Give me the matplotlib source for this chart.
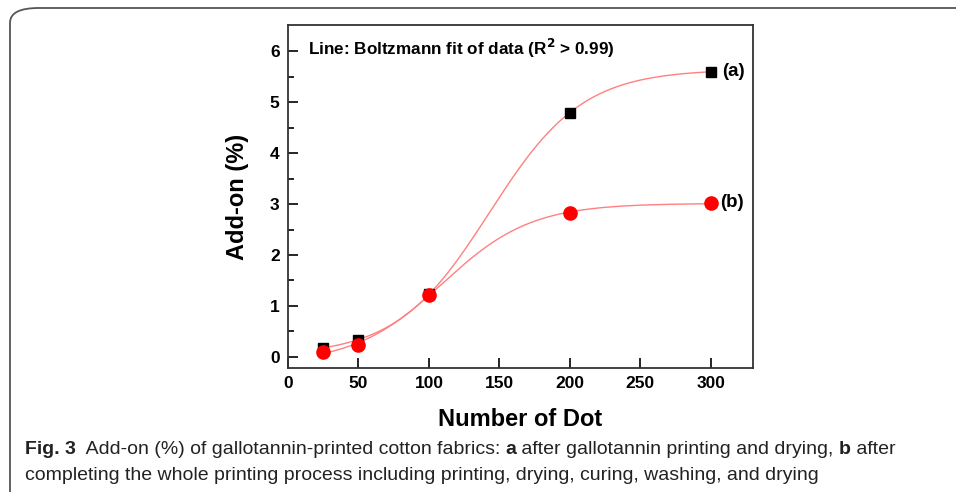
import numpy as np
import matplotlib
matplotlib.use("Agg")
import matplotlib.pyplot as plt
from matplotlib.patches import FancyBboxPatch

# ---- data ----
dots = np.array([25, 50, 100, 200, 300])
addon_a = np.array([0.18, 0.33, 1.23, 4.80, 5.60])   # after printing and drying
addon_b = np.array([0.10, 0.23, 1.22, 2.82, 3.03])   # after whole process

x_ticks = [0, 50, 100, 150, 200, 250, 300]
y_ticks = [0, 1, 2, 3, 4, 5, 6]

caption_1 = [("Fig. 3", True), ("  Add-on (%) of gallotannin-printed cotton fabrics: ", False),
             ("a", True), (" after gallotannin printing and drying, ", False),
             ("b", True), (" after", False)]
caption_2 = [("completing the whole printing process including printing, drying, curing, washing, and drying", False)]


def boltzmann_fit(x, y):
    # grid over x0/dx, A1/A2 solved by linear least squares
    best = None
    for x0 in np.arange(40, 260, 0.5):
        for dx in np.arange(5, 100, 0.5):
            s = 1.0 / (1.0 + np.exp((x - x0) / dx))
            M = np.vstack((s, 1 - s)).T
            coef = np.linalg.lstsq(M, y, rcond=None)[0]
            err = np.sum((M @ coef - y) ** 2)
            if best is None or err < best[0]:
                best = (err, coef[0], coef[1], x0, dx)
    return best[1:]


def boltzmann(x, a1, a2, x0, dx):
    return a2 + (a1 - a2) / (1 + np.exp((x - x0) / dx))


W, H = 956, 492
fig = plt.figure(figsize=(W / 100, H / 100), dpi=100)

# outer rounded frame of the page
frame = FancyBboxPatch((10 / W, -0.2), 1.2, (H - 8) / H + 0.2,
                       boxstyle="round,pad=0,rounding_size=0.03",
                       transform=fig.transFigure, fill=False,
                       edgecolor="#555555", linewidth=1.3)
fig.patches.append(frame)

ax = fig.add_axes([288 / W, 1 - 368 / H, (753 - 288) / W, (368 - 25) / H])

xs = np.linspace(25, 300, 300)
pa = boltzmann_fit(dots, addon_a)
pb = boltzmann_fit(dots, addon_b)
ax.plot(xs, boltzmann(xs, *pa), color="#ff8080", lw=1.0, zorder=2)
ax.plot(xs, boltzmann(xs, *pb), color="#ff8080", lw=1.0, zorder=2)
ax.plot(dots, addon_a, "s", color="black", markersize=7.5, zorder=3)
ax.plot(dots, addon_b, "o", color="#ff0000", markersize=9.5, zorder=4)

ax.set_xlim(0, 330)
ax.set_ylim(-0.22, 6.52)
ax.set_xticks(x_ticks)
ax.set_yticks(y_ticks)
ax.set_yticks(np.arange(0.5, 6.5, 1.0), minor=True)
ax.tick_params(direction="in", length=7, width=1.2, labelsize=12.5, pad=6)
ax.tick_params(which="minor", direction="in", length=4, width=1.2)
for lab in ax.get_xticklabels() + ax.get_yticklabels():
    lab.set_fontweight("bold")
    lab.set_fontfamily("Liberation Sans")
for sp in ax.spines.values():
    sp.set_linewidth(1.3)
    sp.set_color("#333333")

ax.set_xlabel("Number of Dot", fontsize=17, fontweight="bold", family="Liberation Sans", labelpad=12)
ax.set_ylabel("Add-on (%)", fontsize=17, fontweight="bold", family="Liberation Sans", labelpad=15)

fig.text(308 / W, 1 - 48 / H, "Line: Boltzmann fit of data (R$^\\mathbf{2}$ > 0.99)",
         fontsize=12.3, fontweight="bold", family="Liberation Sans", va="center")
ax.annotate("(a)", (addon_a[-1], addon_a[-1]), xytext=(300 + 8, addon_a[-1]),
            textcoords="data", fontsize=13.5, fontweight="bold", family="Liberation Sans", va="center")
ax.annotate("(b)", (addon_b[-1], addon_b[-1]), xytext=(300 + 6.5, addon_b[-1]),
            textcoords="data", fontsize=13.5, fontweight="bold", family="Liberation Sans", va="center")


def line_of_text(pieces, x, y, size=14):
    r = fig.canvas.get_renderer()
    for txt, bold in pieces:
        t = fig.text(x / W, 1 - y / H, txt, fontsize=size, va="center",
                     fontweight="bold" if bold else "normal",
                     family="Liberation Sans", color="#222222")
        bb = t.get_window_extent(renderer=r)
        x += bb.width


line_of_text(caption_1, 25, 449)
line_of_text(caption_2, 25, 475)

fig.savefig("out.png", dpi=100)
